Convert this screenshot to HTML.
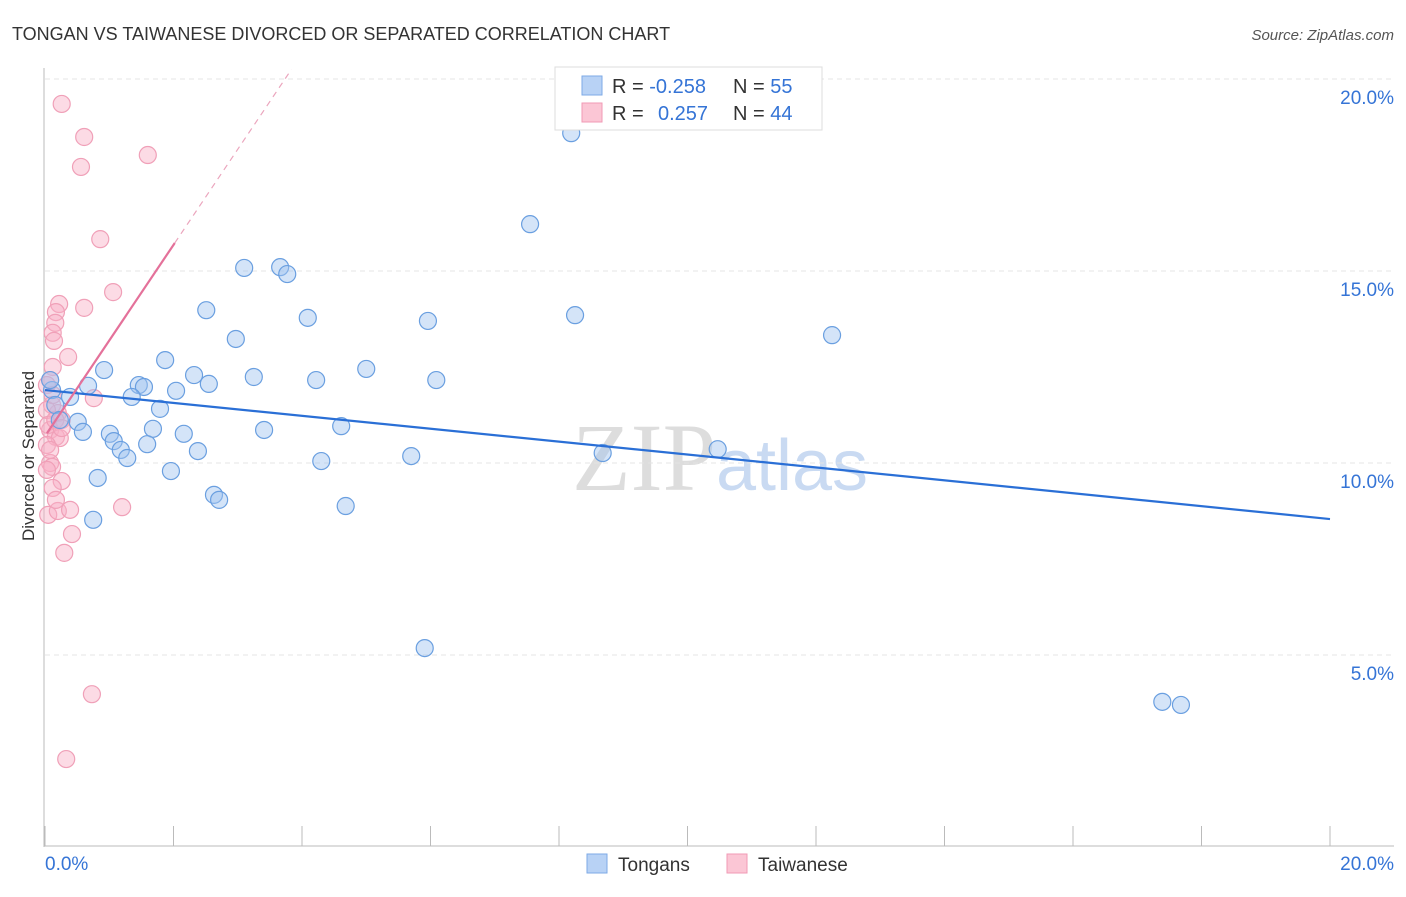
<!DOCTYPE html>
<html><head><meta charset="utf-8"><style>
body{margin:0;background:#fff;font-family:"Liberation Sans",sans-serif;}
</style></head><body>
<svg id="chart" width="1406" height="892" viewBox="0 0 1406 892" xmlns="http://www.w3.org/2000/svg" font-family="Liberation Sans, sans-serif">
<text x="12" y="40" font-size="18" fill="#333">TONGAN VS TAIWANESE DIVORCED OR SEPARATED CORRELATION CHART</text>
<text x="1394" y="40" font-size="15" fill="#555" font-style="italic" text-anchor="end">Source: ZipAtlas.com</text>
<text x="720" y="490" font-size="96" text-anchor="middle" fill="#ddd" font-family="Liberation Serif, serif">ZIP<tspan fill="#c9daf2" font-family="Liberation Sans, sans-serif" font-size="72">atlas</tspan></text>
<text transform="translate(34,456) rotate(-90)" font-size="17" fill="#333" text-anchor="middle">Divorced or Separated</text>
<g id="grid"></g><g id="axes"></g><g id="pts"></g><g id="trends"></g>
<g>
<rect x="555" y="67" width="267" height="63" fill="#fff" stroke="#ddd"/>
<rect x="582" y="76" width="20" height="19" fill="#b8d2f5" stroke="#7eaae6"/>
<rect x="582" y="103" width="20" height="19" fill="#fbc6d5" stroke="#f09ab5"/>
<text x="612" y="93" font-size="20" fill="#333">R = <tspan fill="#3574d6">-0.258</tspan><tspan x="733">N = </tspan><tspan fill="#3574d6">55</tspan></text>
<text x="612" y="120" font-size="20" fill="#333">R = <tspan x="658" fill="#3574d6">0.257</tspan><tspan x="733">N = </tspan><tspan fill="#3574d6">44</tspan></text>
</g>
<g>
<rect x="587" y="854" width="20" height="19" fill="#b8d2f5" stroke="#7eaae6"/>
<text x="618" y="871" font-size="19" fill="#333">Tongans</text>
<rect x="727" y="854" width="20" height="19" fill="#fbc6d5" stroke="#f09ab5"/>
<text x="758" y="871" font-size="19" fill="#333">Taiwanese</text>
</g>
</svg>
<script>
const blueX=[8.19,7.55,3.10,3.66,3.77,2.51,4.09,5.96,8.25,12.25,2.97,1.87,0.92,5.00,2.32,3.25,4.22,6.09,2.55,1.46,1.54,0.67,2.04,1.35,0.39,0.11,1.79,0.51,0.59,1.68,1.01,2.16,3.41,4.61,1.07,1.18,1.59,2.38,1.28,4.30,5.70,8.68,10.47,1.96,0.82,2.63,2.71,4.68,0.75,5.91,17.39,17.68,0.16,0.23,0.08];
const blueY=[18.59,16.22,15.08,15.10,14.92,13.98,13.78,13.70,13.85,13.33,13.23,12.68,12.42,12.45,12.29,12.24,12.16,12.16,12.06,12.03,11.98,12.01,11.88,11.72,11.72,11.90,11.41,11.07,10.81,10.89,10.76,10.76,10.86,10.96,10.57,10.34,10.49,10.31,10.13,10.05,10.18,10.26,10.36,9.79,9.61,9.17,9.04,8.88,8.52,5.18,3.78,3.70,11.51,11.12,12.16];
const pinkX=[0.26,0.61,0.56,1.60,0.86,1.06,0.22,0.61,0.17,0.16,0.12,0.14,0.36,0.12,0.08,0.03,0.76,0.11,0.20,0.26,0.08,0.17,0.23,0.03,0.08,0.11,0.26,0.12,0.05,0.20,0.39,1.20,0.42,0.30,0.73,0.33,0.03,0.05,0.16,0.26,0.08,0.17,0.12,0.03];
const pinkY=[19.35,18.49,17.71,18.02,15.83,14.45,14.14,14.04,13.93,13.65,13.39,13.18,12.76,12.50,12.16,12.03,11.69,11.51,11.30,11.12,10.86,10.68,10.65,10.47,10.0,9.90,9.53,9.35,8.65,8.75,8.78,8.85,8.15,7.66,3.98,2.29,11.38,10.99,11.12,10.91,10.34,9.04,11.77,9.82];
const yTicks=[5,10,15,20];
const yTickLabels=["5.0%","10.0%","15.0%","20.0%"];
const blueTrend=[11.9,8.54];
const pinkTrend=[10.7,2.49];
const NS="http://www.w3.org/2000/svg";
const sx=v=>45+v*64.25, sy=v=>847-v*38.4;
function mk(tag,attrs,parent){const e=document.createElementNS(NS,tag);for(const k in attrs)e.setAttribute(k,attrs[k]);document.getElementById(parent).appendChild(e);return e;}
yTicks.forEach((t,i)=>{
 const l=mk('line',{x1:45,x2:1394,y1:sy(t),y2:sy(t),stroke:'#e4e4e4','stroke-dasharray':'5,4'},'grid');
 
 
 const tx=mk('text',{x:1394,y:sy(t)+25,'font-size':19,fill:'#3574d6','text-anchor':'end'},'grid');
 tx.textContent=yTickLabels[i];
 
 
});
const ax=mk('line',{x1:44,x2:44,y1:68,y2:847,stroke:'#bbb'},'axes');


const bx=mk('line',{x1:44,x2:1394,y1:846,y2:846,stroke:'#bbb'},'axes');


for(let i=0;i<=10;i++){const t=mk('line',{x1:sx(i*2),x2:sx(i*2),y1:826,y2:846,stroke:'#bbb'},'axes');
 
 }
const x0=mk('text',{x:45,y:870,'font-size':19,fill:'#3574d6'},'axes');x0.textContent='0.0%';


const x1=mk('text',{x:1394,y:870,'font-size':19,fill:'#3574d6','text-anchor':'end'},'axes');x1.textContent='20.0%';


pinkX.forEach((v,i)=>{const c=mk('circle',{cx:sx(v),cy:sy(pinkY[i]),r:8.5,fill:'rgba(248,175,198,0.45)',stroke:'#f0a0b8','stroke-width':1.2},'pts');
 
 });
blueX.forEach((v,i)=>{const c=mk('circle',{cx:sx(v),cy:sy(blueY[i]),r:8.5,fill:'rgba(160,195,240,0.45)',stroke:'#6a9fe0','stroke-width':1.2},'pts');
 
 });
const bl=mk('line',{x1:sx(0),y1:sy(blueTrend[0]),x2:sx(20),y2:sy(blueTrend[1]),stroke:'#2a6fd6','stroke-width':2.2},'trends');


const pf=v=>pinkTrend[0]+pinkTrend[1]*v;
const pl=mk('line',{x1:sx(0.03),y1:sy(pf(0.03)),x2:sx(2.02),y2:sy(pf(2.02)),stroke:'#e4719a','stroke-width':2.2},'trends');


const xe=(20-pinkTrend[0])/pinkTrend[1];
const pd=mk('line',{x1:sx(2.02),y1:sy(pf(2.02)),x2:sx(xe+0.1),y2:sy(pf(xe+0.1)),stroke:'#eba5bd','stroke-width':1.2,'stroke-dasharray':'6,5'},'trends');


</script>
</body></html>
